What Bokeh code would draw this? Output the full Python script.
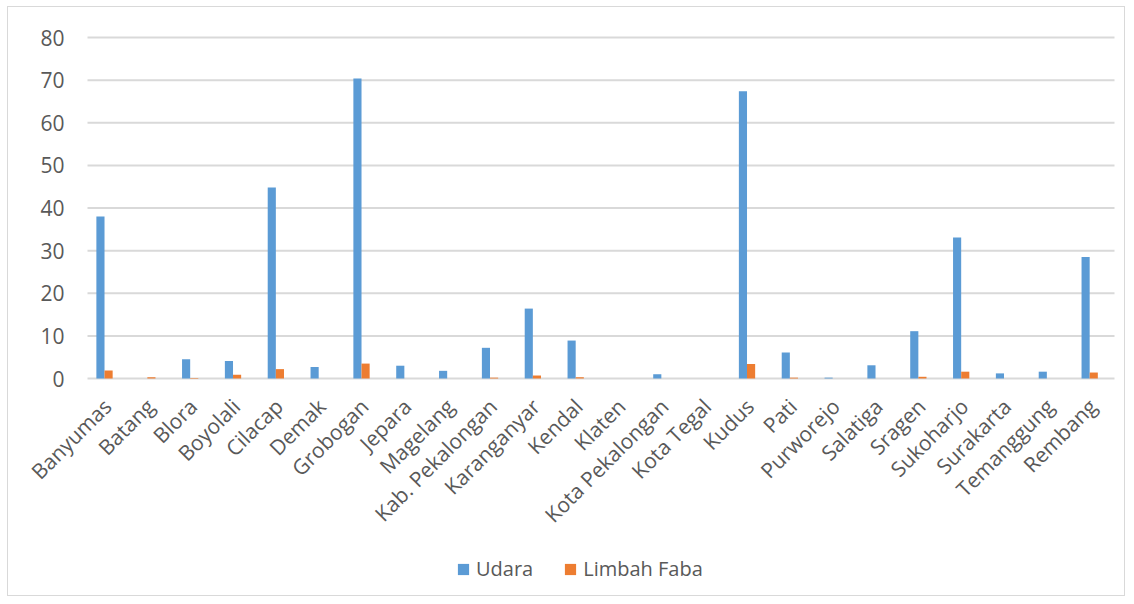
import math
from bokeh.plotting import figure
from bokeh.layouts import column, row
from bokeh.core.properties import value
from bokeh.models import ColumnDataSource, Range1d, Legend, LegendItem, Spacer
from bokeh.transform import dodge
from bokeh.embed import file_html
from bokeh.resources import INLINE

categories = ["Banyumas", "Batang", "Blora", "Boyolali", "Cilacap", "Demak", "Grobogan",
              "Jepara", "Magelang", "Kab. Pekalongan", "Karanganyar", "Kendal", "Klaten",
              "Kota Pekalongan", "Kota Tegal", "Kudus", "Pati", "Purworejo", "Salatiga",
              "Sragen", "Sukoharjo", "Surakarta", "Temanggung", "Rembang"]
udara = [38.0, 0.0, 4.5, 4.1, 44.8, 2.7, 70.4, 3.0, 1.8, 7.2, 16.4, 8.9, 0.0,
         1.0, 0.0, 67.4, 6.1, 0.2, 3.1, 11.1, 33.1, 1.2, 1.6, 28.5]
limbah_faba = [1.9, 0.3, 0.1, 0.9, 2.2, 0.0, 3.5, 0.0, 0.0, 0.2, 0.7, 0.3, 0.0,
               0.0, 0.0, 3.4, 0.2, 0.0, 0.0, 0.4, 1.6, 0.0, 0.0, 1.4]
y_ticks = [0, 10, 20, 30, 40, 50, 60, 70, 80]
series_names = ["Udara", "Limbah Faba"]

FONT = "Open Sans"
TXT = "#595959"
GRID = "#d9d9d9"

# layout constants (pixels, relative to the figure)
W, H = 1118, 590
CAT_PX = 1028 / len(categories)   # width of one category slot
LEFT_PX = 74.6                    # left edge of first category slot
TOP_PX = 30                       # pixel position of the top tick
AXIS_PX = 341                     # pixel height from first to last tick
GRID_L, GRID_R = 79, 1106         # gridline extent

x_lo = -LEFT_PX / CAT_PX
x_hi = (W - LEFT_PX) / CAT_PX
px_per_unit = AXIS_PX / (y_ticks[-1] - y_ticks[0])
y_hi = y_ticks[-1] + TOP_PX / px_per_unit
y_lo = y_hi - H / px_per_unit
gx0 = (GRID_L - LEFT_PX) / CAT_PX
gx1 = (GRID_R - LEFT_PX) / CAT_PX

pos = [i + 0.5 for i in range(len(categories))]
src = ColumnDataSource(dict(cat=categories, pos=pos, udara=udara, faba=limbah_faba,
                            zero=[y_ticks[0]] * len(categories)))
tick_src = ColumnDataSource(dict(y=y_ticks, label=[str(t) for t in y_ticks],
                                 x0=[gx0] * len(y_ticks), x1=[gx1] * len(y_ticks)))

p = figure(x_range=Range1d(x_lo, x_hi), y_range=Range1d(y_lo, y_hi),
           width=W, height=H, output_backend="svg", toolbar_location=None,
           x_axis_location=None, y_axis_location=None,
           min_border=0)
p.styles = {"border": "1px solid #d9d9d9", "box-sizing": "border-box"}
p.outline_line_color = None
p.grid.visible = False

# gridlines
p.segment(x0="x0", x1="x1", y0="y", y1="y", source=tick_src, line_color=GRID, line_width=2)
# y tick labels
p.text(x="x0", y="y", text="label", source=tick_src, text_align="right",
       text_baseline="middle", x_offset=-23, text_font=value(FONT),
       text_font_size="21px", text_color=TXT)

BW = 0.19
r1 = p.vbar(x=dodge("pos", -BW / 2), top="udara", width=BW, source=src,
            fill_color="#5B9BD5", line_color=None)
r2 = p.vbar(x=dodge("pos", BW / 2), top="faba", width=BW, source=src,
            fill_color="#ED7D31", line_color=None)

# category labels
p.text(x="pos", y="zero", text="cat", source=src, angle=math.pi / 4,
       text_align="right", text_baseline="middle", x_offset=3, y_offset=24,
       text_font=value(FONT), text_font_size="21px", text_color=TXT)

legend = Legend(items=[LegendItem(label=series_names[0], renderers=[r1]),
                       LegendItem(label=series_names[1], renderers=[r2])],
                orientation="horizontal", location=(448, 15),
                label_text_font=FONT, label_text_font_size="20px", label_text_color=TXT,
                glyph_width=14, glyph_height=14, spacing=30, label_standoff=6,
                padding=0, margin=0,
                border_line_color=None, background_fill_alpha=0)
p.add_layout(legend, "center")

layout = column(Spacer(height=6), row(Spacer(width=7), p))
open("out.html", "w").write(file_html(layout, INLINE))
